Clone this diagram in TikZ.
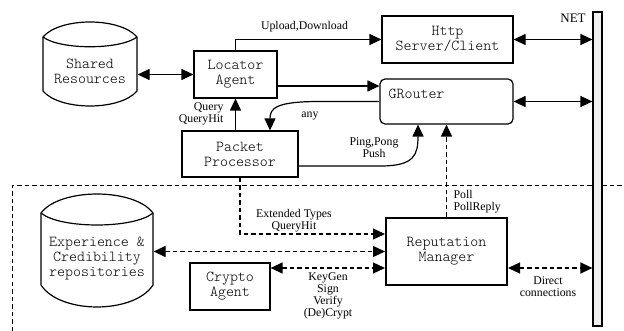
\documentclass[tikz,border=0pt]{standalone}
\usepackage{fontspec}
\setmainfont{Liberation Serif}
\newfontfamily\monof{Latin Modern Mono Light}
\usetikzlibrary{arrows.meta}
\begin{document}
\begin{tikzpicture}[x=1pt,y=-1pt,line width=1.2pt,
  tip/.style={-{Triangle[length=12pt,width=11pt]}},
  dtip/.style={{Triangle[length=12pt,width=11pt]}-{Triangle[length=12pt,width=11pt]}},
  dsh/.style={dash pattern=on 4.5pt off 3pt},
  box/.style={draw,align=center,inner sep=0pt,font=\monof\fontsize{15.2}{15}\selectfont},
  mtext/.style={align=center,inner sep=0pt,font=\monof\fontsize{15.2}{15}\selectfont},
  lbl/.style={align=center,inner sep=0pt,font=\fontsize{11.8}{12}\selectfont}]
\useasboundingbox (0,0) rectangle (624,331);
% separator
\draw[dsh,line width=1pt] (12,331) -- (12,186) -- (624,186);
% cylinders
\draw (43,37) .. controls (60,17) and (120,17) .. (137,37) -- (137,91)
  .. controls (120,111) and (60,111) .. (43,91) -- cycle;
\draw (43,37) .. controls (60,50) and (120,50) .. (137,37);
\draw (41,213) .. controls (60,187.7) and (134,187.7) .. (153,213) -- (153,285)
  .. controls (134,314.3) and (60,314.3) .. (41,285) -- cycle;
\draw (41,213) .. controls (60,229) and (134,229) .. (153,213);
\node[mtext,minimum width=94pt] (sr) at (90,71) {Shared\\Resources};
\node[mtext,minimum width=112pt] (exp) at (97,259) {Experience \&\\Credibility\\repositories};
% boxes
\node[box,minimum width=83pt,minimum height=47pt] (loc) at (235.5,74.5) {Locator\\Agent};
\node[box,minimum width=131pt,minimum height=47pt] (http) at (447.5,39.5) {Http\\Server/Client};
\node[draw,rounded corners=5pt,minimum width=133pt,minimum height=45pt,inner sep=0pt] (gr) at (446.5,101.5) {};
\node[mtext,anchor=west] (grl) at (388,94) {GRouter};
\node[box,minimum width=116pt,minimum height=46pt] (pp) at (240,154) {Packet\\Processor};
\node[box,line width=2pt,minimum width=121pt,minimum height=67pt] (rep) at (446.5,251.5) {Reputation\\Manager};
\node[box,minimum width=80pt,minimum height=47pt] (crypto) at (230,286.5) {Crypto\\Agent};
\node[draw,fill=gray!12,minimum width=9pt,minimum height=314pt,inner sep=0pt] (net) at (597.5,169) {};
\node[lbl,font=\fontsize{13}{13}\selectfont] (netl) at (573,18) {NET};
% connectors
\draw[dtip] (loc.west -| sr.east) -- (loc.west);
\draw[tip] (loc.north) |- (http.west);
\draw[dtip] (http.east) -- (http.east -| net.west);
\draw[tip] ([yshift=-11.5pt]loc.east) -- ([yshift=-11.5pt]loc.east -| gr.west);
\draw[dtip] (gr.east) -- (gr.east -| net.west);
\draw[tip] (gr.west) -- ++(-60,0) .. controls +(-44,0) and +(0,-22) .. ([xshift=30pt]pp.north);
\draw[tip] (pp.north -| loc.south) -- (loc.south);
\draw[tip] ([yshift=-12pt]pp.east) -- ++(82,0) .. controls +(34,0) and +(0,30) .. ([xshift=-28.5pt]gr.south);
\draw[dsh,tip] (rep.north) -- (rep.north |- gr.south);
\draw[dsh,tip] (pp.south) |- ([yshift=17.5pt]rep.west);
\draw[dsh,dtip] (rep.west -| exp.east) -- (rep.west);
\draw[dsh,dtip] ([yshift=18.5pt]crypto.east) -- ([yshift=18.5pt]crypto.east -| rep.west);
\draw[dsh,dtip] ([yshift=-16.5pt]rep.east) -- ([yshift=-16.5pt]rep.east -| net.west);
% labels
\node[lbl] (lup) at (304.5,26.5) {Upload,Download};
\node[lbl,align=right,anchor=east] (lq) at (224,114) {Query\\QueryHit};
\node[lbl] (lany) at (310,116) {any};
\node[lbl] (lping) at (374,148) {Ping,Pong\\Push};
\node[lbl,align=left,anchor=west] (lpoll) at (453,201.5) {Poll\\PollReply};
\node[lbl] (lext) at (294,221) {Extended Types\\QueryHit};
\node[lbl] (lkey) at (328,296) {KeyGen\\Sign\\Verify\\(De)Crypt};
\node[lbl] (ldir) at (548,287) {Direct\\connections};
\end{tikzpicture}
\end{document}
